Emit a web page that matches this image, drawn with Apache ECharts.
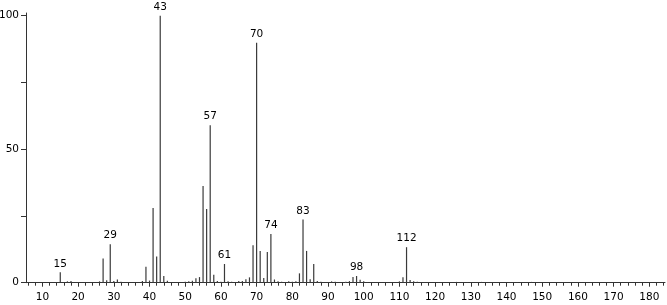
<!DOCTYPE html>
<html>
<head>
<meta charset="utf-8">
<script src="https://cdn.jsdelivr.net/npm/echarts@6/dist/echarts.min.js"></script>
<style>
html,body{margin:0;padding:0;background:#fff;}
#c{width:667px;height:305px;}
</style>
</head>
<body>
<div id="c"></div>
<script>
const mz = [15,17,18,26,27,28,29,30,31,32,38,39,40,41,42,43,44,45,50,51,52,53,54,55,56,57,58,59,60,61,62,63,65,66,67,68,69,70,71,72,73,74,75,76,77,79,80,81,82,83,84,85,86,87,88,91,92,95,96,97,98,99,100,101,110,111,112,113,114,115,117,121,126,129,133,136,141,143,147];
const intensity = [3.9,0.5,0.6,0.5,9.1,0.9,14.4,0.6,1.2,0.4,0.6,6.0,0.8,28.0,9.8,100,2.5,0.7,0.4,0.5,0.7,1.7,2.1,36.2,27.6,59,3.0,0.6,0.4,7.0,0.5,0.4,0.6,0.6,1.3,2.0,14.0,89.9,11.9,1.8,11.5,18.2,1.2,0.5,0.4,0.5,0.4,0.5,3.5,23.7,11.9,1.3,7.0,0.6,0.4,0.5,0.4,0.4,0.6,2.1,2.5,1.1,0.5,0.3,0.5,2.0,13.3,1.0,0.5,0.4,0.3,0.3,0.3,0.3,0.3,0.3,0.3,0.3,0.3];
const labeledPeaks = [15,29,43,57,61,70,74,83,98,112];
const xTickLabels = [10,20,30,40,50,60,70,80,90,100,110,120,130,140,150,160,170,180];
const xMinorTicks = [6,8,12,14,16,18,22,24,26,28,32,34,36,38,42,44,46,48,52,54,56,58,62,64,66,68,72,74,76,78,82,84,86,88,92,94,96,98,102,104,106,108,112,114,116,118,122,124,126,128,132,134,136,138,142,144,146,148,152,154,156,158,162,164,166,168,172,174,176,178,182,184];
const yTicks = [0,25,50,75,100];
const yTickLabels = [0,50,100];

const FONT = 'DejaVu Sans';
const data = mz.map((m, i) => {
  const item = { value: [m, intensity[i]] };
  if (labeledPeaks.includes(m)) {
    item.label = { show: true };
  }
  return item;
});

const chart = echarts.init(document.getElementById('c'), null, { renderer: 'canvas' });
chart.setOption({
  animation: false,
  backgroundColor: '#fff',
  grid: { left: 26, right: 2, top: 13, bottom: 22.3, containLabel: false, outerBoundsMode: 'none' },
  xAxis: [{
    type: 'value', min: 5.4, max: 184.4, position: 'bottom',
    splitLine: { show: false },
    axisLine: { show: true, lineStyle: { color: '#333', width: 1 } },
    axisTick: { show: true, length: 4, customValues: xTickLabels, lineStyle: { color: '#333' } },
    axisLabel: { show: true, customValues: xTickLabels, margin: 9, fontFamily: FONT, fontSize: 10.5, color: '#000' }
  }, {
    type: 'value', min: 5.4, max: 184.4, position: 'bottom', offset: 0,
    splitLine: { show: false },
    axisLine: { show: false },
    axisTick: { show: true, length: 3, customValues: xMinorTicks, lineStyle: { color: '#333' } },
    axisLabel: { show: false }
  }],
  yAxis: {
    type: 'value', min: 0, max: 101,
    splitLine: { show: false },
    axisLine: { show: true, lineStyle: { color: '#333', width: 1 } },
    axisTick: { show: true, length: 5, customValues: yTicks, lineStyle: { color: '#333' } },
    axisLabel: { show: true, customValues: yTickLabels, margin: 7, fontFamily: FONT, fontSize: 10.5, color: '#000' }
  },
  series: [{
    type: 'bar',
    xAxisIndex: 0,
    barWidth: 1.2,
    itemStyle: { color: '#3a3a3a' },
    label: {
      show: false, position: 'top', distance: 3,
      fontFamily: FONT, fontSize: 10.5, color: '#000',
      formatter: p => String(p.value[0])
    },
    data: data
  }]
});
</script>
</body>
</html>
